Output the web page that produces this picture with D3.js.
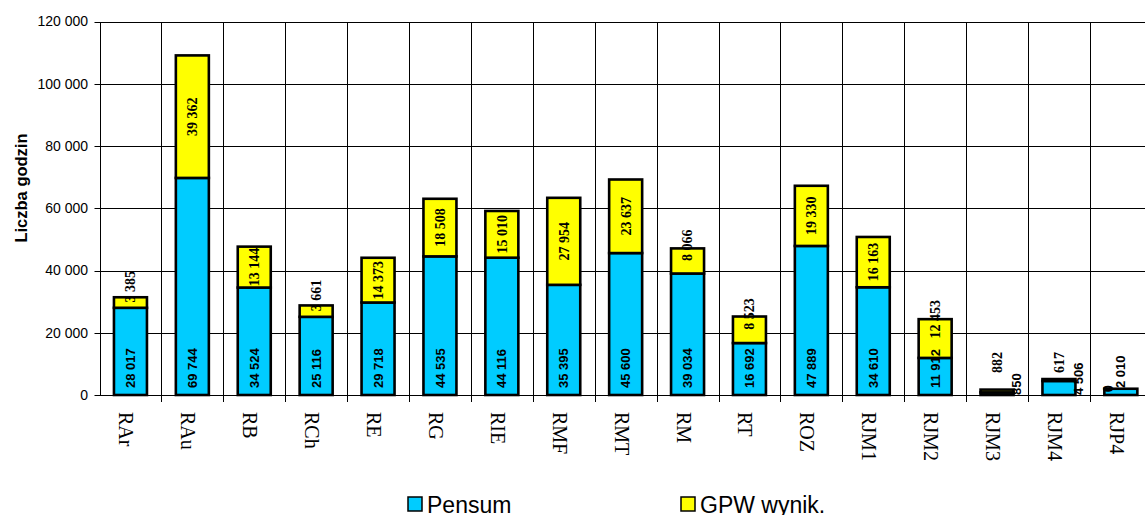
<!DOCTYPE html>
<html>
<head>
<meta charset="utf-8">
<title>Liczba godzin</title>
<style>
  body { margin: 0; background: #fff; }
  svg { display: block; }
</style>
</head>
<body>
<div id="chart"></div>
<script src="https://d3js.org/d3.v7.min.js"></script>
<script>

// data
var categories = ["RAr", "RAu", "RB", "RCh", "RE", "RG", "RIE", "RMF", "RMT", "RM", "RT", "ROZ", "RJM1", "RJM2", "RJM3", "RJM4", "RJP4"];
var pensum = [28017, 69744, 34524, 25116, 29718, 44535, 44116, 35395, 45600, 39034, 16692, 47889, 34610, 11912, 850, 4506, 2010];
var gpw = [3385, 39362, 13144, 3661, 14373, 18508, 15010, 27954, 23637, 8066, 8523, 19330, 16163, 12453, 882, 617, 0];
var yTicks = [0, 20000, 40000, 60000, 80000, 100000, 120000];
var seriesNames = ["Pensum", "GPW wynik."];

var W = 1145, H = 515;
var plotLeft = 99.5, step = 61.9, plotTop = 21.5, plotBottom = 395;
var plotRight = plotLeft + step * categories.length;

var fmt = function(v) { return d3.format(",")(v).replace(/,/g, " "); };

var svg = d3.select("#chart").append("svg")
  .attr("width", W)
  .attr("height", H);

svg.append("rect").attr("width", W).attr("height", H).attr("fill", "#fff");

var x = d3.scaleBand()
  .domain(categories)
  .range([plotLeft, plotRight])
  .padding(0);

var y = d3.scaleLinear()
  .domain([0, 120000])
  .range([plotBottom, plotTop]);

var barW = 33;
var cx = function(c) { return x(c) + x.bandwidth() / 2; };

// horizontal grid
svg.append("g")
  .selectAll("line")
  .data(yTicks)
  .join("line")
    .attr("x1", plotLeft - 5)
    .attr("x2", plotRight)
    .attr("y1", function(d) { return Math.round(y(d)) + 0.5; })
    .attr("y2", function(d) { return Math.round(y(d)) + 0.5; })
    .attr("stroke", "#000")
    .attr("stroke-width", 1);

// vertical grid at category boundaries (with tick below the axis)
svg.append("g")
  .selectAll("line")
  .data(categories.slice(1))
  .join("line")
    .attr("x1", function(d) { return Math.round(x(d)) + 0.5; })
    .attr("x2", function(d) { return Math.round(x(d)) + 0.5; })
    .attr("y1", Math.round(plotTop) + 0.5)
    .attr("y2", plotBottom + 7)
    .attr("stroke", "#000")
    .attr("stroke-width", 1);

// y axis line
svg.append("line")
  .attr("x1", Math.round(plotLeft) + 0.5).attr("x2", Math.round(plotLeft) + 0.5)
  .attr("y1", Math.round(plotTop) + 0.5).attr("y2", plotBottom + 0.5)
  .attr("stroke", "#000");

// y tick labels
svg.append("g")
  .selectAll("text")
  .data(yTicks)
  .join("text")
    .attr("x", 88)
    .attr("y", function(d) { return y(d); })
    .attr("dy", "0.35em")
    .attr("text-anchor", "end")
    .attr("font-family", "Liberation Sans, Arial, sans-serif")
    .attr("font-size", 14)
    .text(fmt);

// y title
svg.append("text")
  .attr("transform", "translate(27,188) rotate(-90)")
  .attr("text-anchor", "middle")
  .attr("font-family", "Liberation Sans, Arial, sans-serif")
  .attr("font-weight", "bold")
  .attr("font-size", 16.5)
  .text("Liczba godzin");

// x tick labels
svg.append("g")
  .selectAll("text")
  .data(categories)
  .join("text")
    .attr("transform", function(d) { return "translate(" + (cx(d) - 11) + ",412) rotate(90)"; })
    .attr("font-family", "Liberation Serif, Times New Roman, serif")
    .attr("font-size", 20)
    .text(function(d) { return d; });

// stacked bars
var rows = categories.map(function(c, i) { return { cat: c, p: pensum[i], g: gpw[i] }; });

var bars = svg.append("g");
bars.selectAll("rect.p")
  .data(rows)
  .join("rect")
    .attr("class", "p")
    .attr("x", function(d) { return cx(d.cat) - barW / 2; })
    .attr("y", function(d) { return y(d.p); })
    .attr("width", barW)
    .attr("height", function(d) { return y(0) - y(d.p); })
    .attr("fill", "#00CCFF")
    .attr("stroke", "#000")
    .attr("stroke-width", 2.6);

bars.selectAll("rect.g")
  .data(rows.filter(function(d) { return d.g > 0; }))
  .join("rect")
    .attr("class", "g")
    .attr("x", function(d) { return cx(d.cat) - barW / 2; })
    .attr("y", function(d) { return y(d.p + d.g); })
    .attr("width", barW)
    .attr("height", function(d) { return y(d.p) - y(d.p + d.g); })
    .attr("fill", "#FFFF00")
    .attr("stroke", "#000")
    .attr("stroke-width", 2.6);

// pensum labels, inside base; tiny stacks push the label to the side
svg.append("g")
  .selectAll("text")
  .data(rows)
  .join("text")
    .attr("dy", "0.35em")
    .attr("font-family", "Liberation Sans, Arial, sans-serif")
    .attr("font-weight", "bold")
    .attr("font-size", 13)
    .text(function(d) { return fmt(d.p); })
    .each(function(d) {
      var L = this.getComputedTextLength();
      var h = y(0) - y(d.p);
      var px = cx(d.cat), py = y(0) - 7;
      if (h < L / 2 && d.g > 0) { px += 19; py = y(0); }
      d3.select(this).attr("transform", "translate(" + px + "," + py + ") rotate(-90)");
    });

// gpw labels, centred; start at the middle when they do not fit
svg.append("g")
  .selectAll("text")
  .data(rows)
  .join("text")
    .attr("dy", "0.35em")
    .attr("font-family", "Liberation Serif, Times New Roman, serif")
    .attr("font-weight", "bold")
    .attr("font-size", 14)
    .text(function(d) { return fmt(d.g); })
    .each(function(d) {
      var L = this.getComputedTextLength();
      var yt = y(d.p + d.g), yb = y(d.p), c = (yt + yb) / 2;
      var t = d3.select(this);
      if (d.g === 0) {
        t.attr("text-anchor", "middle")
         .attr("transform", "translate(" + (cx(d.cat) - barW / 2 + 4) + "," + c + ") rotate(-90)");
      } else if (L + 2 <= yb - yt) {
        t.attr("text-anchor", "middle")
         .attr("transform", "translate(" + cx(d.cat) + "," + c + ") rotate(-90)");
      } else {
        var b = Math.min(c, y(0) - 22);
        t.attr("text-anchor", "start")
         .attr("transform", "translate(" + cx(d.cat) + "," + b + ") rotate(-90)");
      }
    });

// legend
var legend = svg.append("g")
  .selectAll("g")
  .data(seriesNames)
  .join("g")
    .attr("transform", function(d, i) { return "translate(" + [408, 681][i] + ",497)"; });

legend.append("rect")
  .attr("width", 14)
  .attr("height", 14)
  .attr("fill", function(d, i) { return ["#00CCFF", "#FFFF00"][i]; })
  .attr("stroke", "#000")
  .attr("stroke-width", 1.5);

legend.append("text")
  .attr("x", 19)
  .attr("y", 15.5)
  .attr("font-family", "Liberation Sans, Arial, sans-serif")
  .attr("font-size", 23)
  .text(function(d) { return d; });

</script>
</body>
</html>
